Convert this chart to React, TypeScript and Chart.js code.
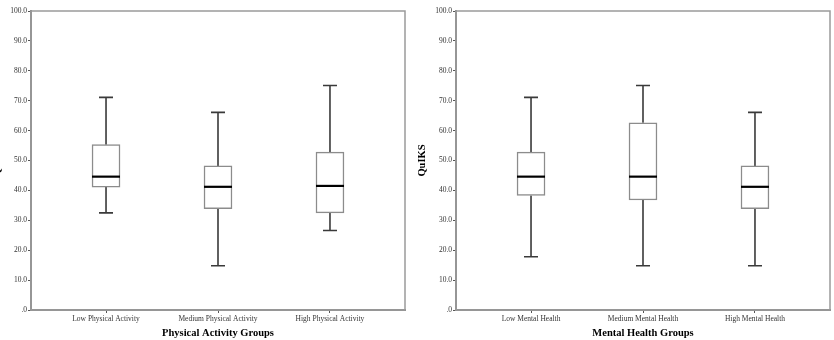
import React, { useEffect, useRef } from "react";
import { Chart, registerables } from "chart.js";

Chart.register(...registerables);

const paCategories = ["Low Physical Activity", "Medium Physical Activity", "High Physical Activity"];
const paMin = [32.5, 14.8, 26.6];
const paQ1 = [41.1, 33.9, 32.5];
const paMedian = [44.6, 41.2, 41.5];
const paQ3 = [55.3, 48.2, 52.8];
const paMax = [71.1, 66.1, 75.1];

const mhCategories = ["Low Mental Health", "Medium Mental Health", "High Mental Health"];
const mhMin = [17.8, 14.8, 14.8];
const mhQ1 = [38.3, 36.8, 33.9];
const mhMedian = [44.6, 44.6, 41.2];
const mhQ3 = [52.8, 62.6, 48.2];
const mhMax = [71.1, 75.1, 66.1];

const yTicks = [0, 10, 20, 30, 40, 50, 60, 70, 80, 90, 100];

const FONT = "'Liberation Serif', 'Times New Roman', serif";

type BoxProps = {
  categories: string[];
  mins: number[];
  q1s: number[];
  medians: number[];
  q3s: number[];
  maxs: number[];
  xTitle: string;
  yTitle: string;
  yAxisWidth: number;
  padRight: number;
  left: number;
};

function BoxChart(p: BoxProps) {
  const ref = useRef<HTMLCanvasElement | null>(null);
  useEffect(() => {
    if (!ref.current) return;
    const boxPlugin = {
      id: "boxDecor",
      beforeDatasetsDraw(chart: any) {
        const { ctx, chartArea } = chart;
        ctx.save();
        ctx.strokeStyle = "#9a9a9a";
        ctx.lineWidth = 1.5;
        ctx.strokeRect(chartArea.left, chartArea.top, chartArea.right - chartArea.left, chartArea.bottom - chartArea.top);
        // whiskers
        const xs = chart.scales.x;
        const ys = chart.scales.y;
        ctx.strokeStyle = "#3a3a3a";
        ctx.lineWidth = 1.6;
        p.categories.forEach((_, i) => {
          const x = xs.getPixelForValue(i);
          const yMin = ys.getPixelForValue(p.mins[i]);
          const yQ1 = ys.getPixelForValue(p.q1s[i]);
          const yQ3 = ys.getPixelForValue(p.q3s[i]);
          const yMax = ys.getPixelForValue(p.maxs[i]);
          ctx.beginPath();
          ctx.moveTo(x, yQ3);
          ctx.lineTo(x, yMax);
          ctx.moveTo(x - 7, yMax);
          ctx.lineTo(x + 7, yMax);
          ctx.moveTo(x, yQ1);
          ctx.lineTo(x, yMin);
          ctx.moveTo(x - 7, yMin);
          ctx.lineTo(x + 7, yMin);
          ctx.stroke();
        });
        // y title
        ctx.save();
        ctx.translate(chartArea.left - 34, (chartArea.top + chartArea.bottom) / 2);
        ctx.rotate(-Math.PI / 2);
        ctx.fillStyle = "#000";
        ctx.font = "bold 10.5px " + FONT;
        ctx.textAlign = "center";
        ctx.textBaseline = "middle";
        ctx.fillText(p.yTitle, 0, 0);
        ctx.restore();
        ctx.restore();
      },
      afterDatasetsDraw(chart: any) {
        const { ctx } = chart;
        const xs = chart.scales.x;
        const ys = chart.scales.y;
        ctx.save();
        ctx.strokeStyle = "#000";
        ctx.lineWidth = 2.2;
        p.categories.forEach((_, i) => {
          const x = xs.getPixelForValue(i);
          const y = ys.getPixelForValue(p.medians[i]);
          ctx.beginPath();
          ctx.moveTo(x - 14, y);
          ctx.lineTo(x + 14, y);
          ctx.stroke();
        });
        ctx.restore();
      },
    };

    const chart = new Chart(ref.current, {
      type: "bar",
      data: {
        datasets: [
          {
            data: p.categories.map((_, i) => ({ x: i, y: [p.q1s[i], p.q3s[i]] })) as any,
            backgroundColor: "#ffffff",
            borderColor: "#8c8c8c",
            borderWidth: 1.5,
            borderSkipped: false,
            barThickness: 28,
          },
        ],
      },
      options: {
        animation: false,
        responsive: false,
        devicePixelRatio: 1,
        layout: { padding: { top: 11, right: p.padRight, left: 0, bottom: 0 } },
        plugins: { legend: { display: false }, tooltip: { enabled: false } },
        scales: {
          x: {
            type: "linear",
            min: -0.67,
            max: 2.67,
            offset: false,
            afterBuildTicks(scale: any) {
              scale.ticks = p.categories.map((_, i) => ({ value: i }));
            },
            afterFit(scale: any) {
              scale.height = 30;
            },
            ticks: {
              callback: (v: any) => p.categories[v as number] ?? "",
              font: { family: FONT, size: 7.5 },
              color: "#333",
              padding: 2,
              maxRotation: 0,
              autoSkip: false,
            },
            grid: { offset: false, drawOnChartArea: false, drawTicks: true, tickLength: 3, color: "#555" },
            border: { display: true, color: "#8a8a8a", width: 2 },
            title: {
              display: true,
              text: p.xTitle,
              font: { family: FONT, size: 10.5, weight: "bold" },
              color: "#000",
              padding: { top: 0, bottom: 0 },
            },
          },
          y: {
            type: "linear",
            min: 0,
            max: 100,
            afterBuildTicks(scale: any) {
              scale.ticks = yTicks.map((v) => ({ value: v }));
            },
            afterFit(scale: any) {
              scale.width = p.yAxisWidth;
            },
            ticks: {
              callback: (v: any) => (v === 0 ? ".0" : Number(v).toFixed(1)),
              font: { family: FONT, size: 7.5 },
              color: "#333",
              padding: 1,
            },
            grid: { drawOnChartArea: false, drawTicks: true, tickLength: 3, color: "#555" },
            border: { display: true, color: "#8a8a8a", width: 2 },
          },
        },
      },
      plugins: [boxPlugin],
    });
    return () => chart.destroy();
  }, []);
  return (
    <canvas
      ref={ref}
      width={417}
      height={340}
      style={{ position: "absolute", left: p.left, top: 0, width: 417, height: 340, display: "block" }}
    />
  );
}

export default function App() {
  return (
    <div style={{ position: "absolute", left: 0, top: 0, width: 834, height: 340, background: "#fff", overflow: "hidden" }}>
      <BoxChart
        categories={paCategories}
        mins={paMin}
        q1s={paQ1}
        medians={paMedian}
        q3s={paQ3}
        maxs={paMax}
        xTitle="Physical Activity Groups"
        yTitle="QuIKS"
        yAxisWidth={31}
        padRight={12}
        left={0}
      />
      <BoxChart
        categories={mhCategories}
        mins={mhMin}
        q1s={mhQ1}
        medians={mhMedian}
        q3s={mhQ3}
        maxs={mhMax}
        xTitle="Mental Health Groups"
        yTitle="QuIKS"
        yAxisWidth={39}
        padRight={4}
        left={417}
      />
    </div>
  );
}
